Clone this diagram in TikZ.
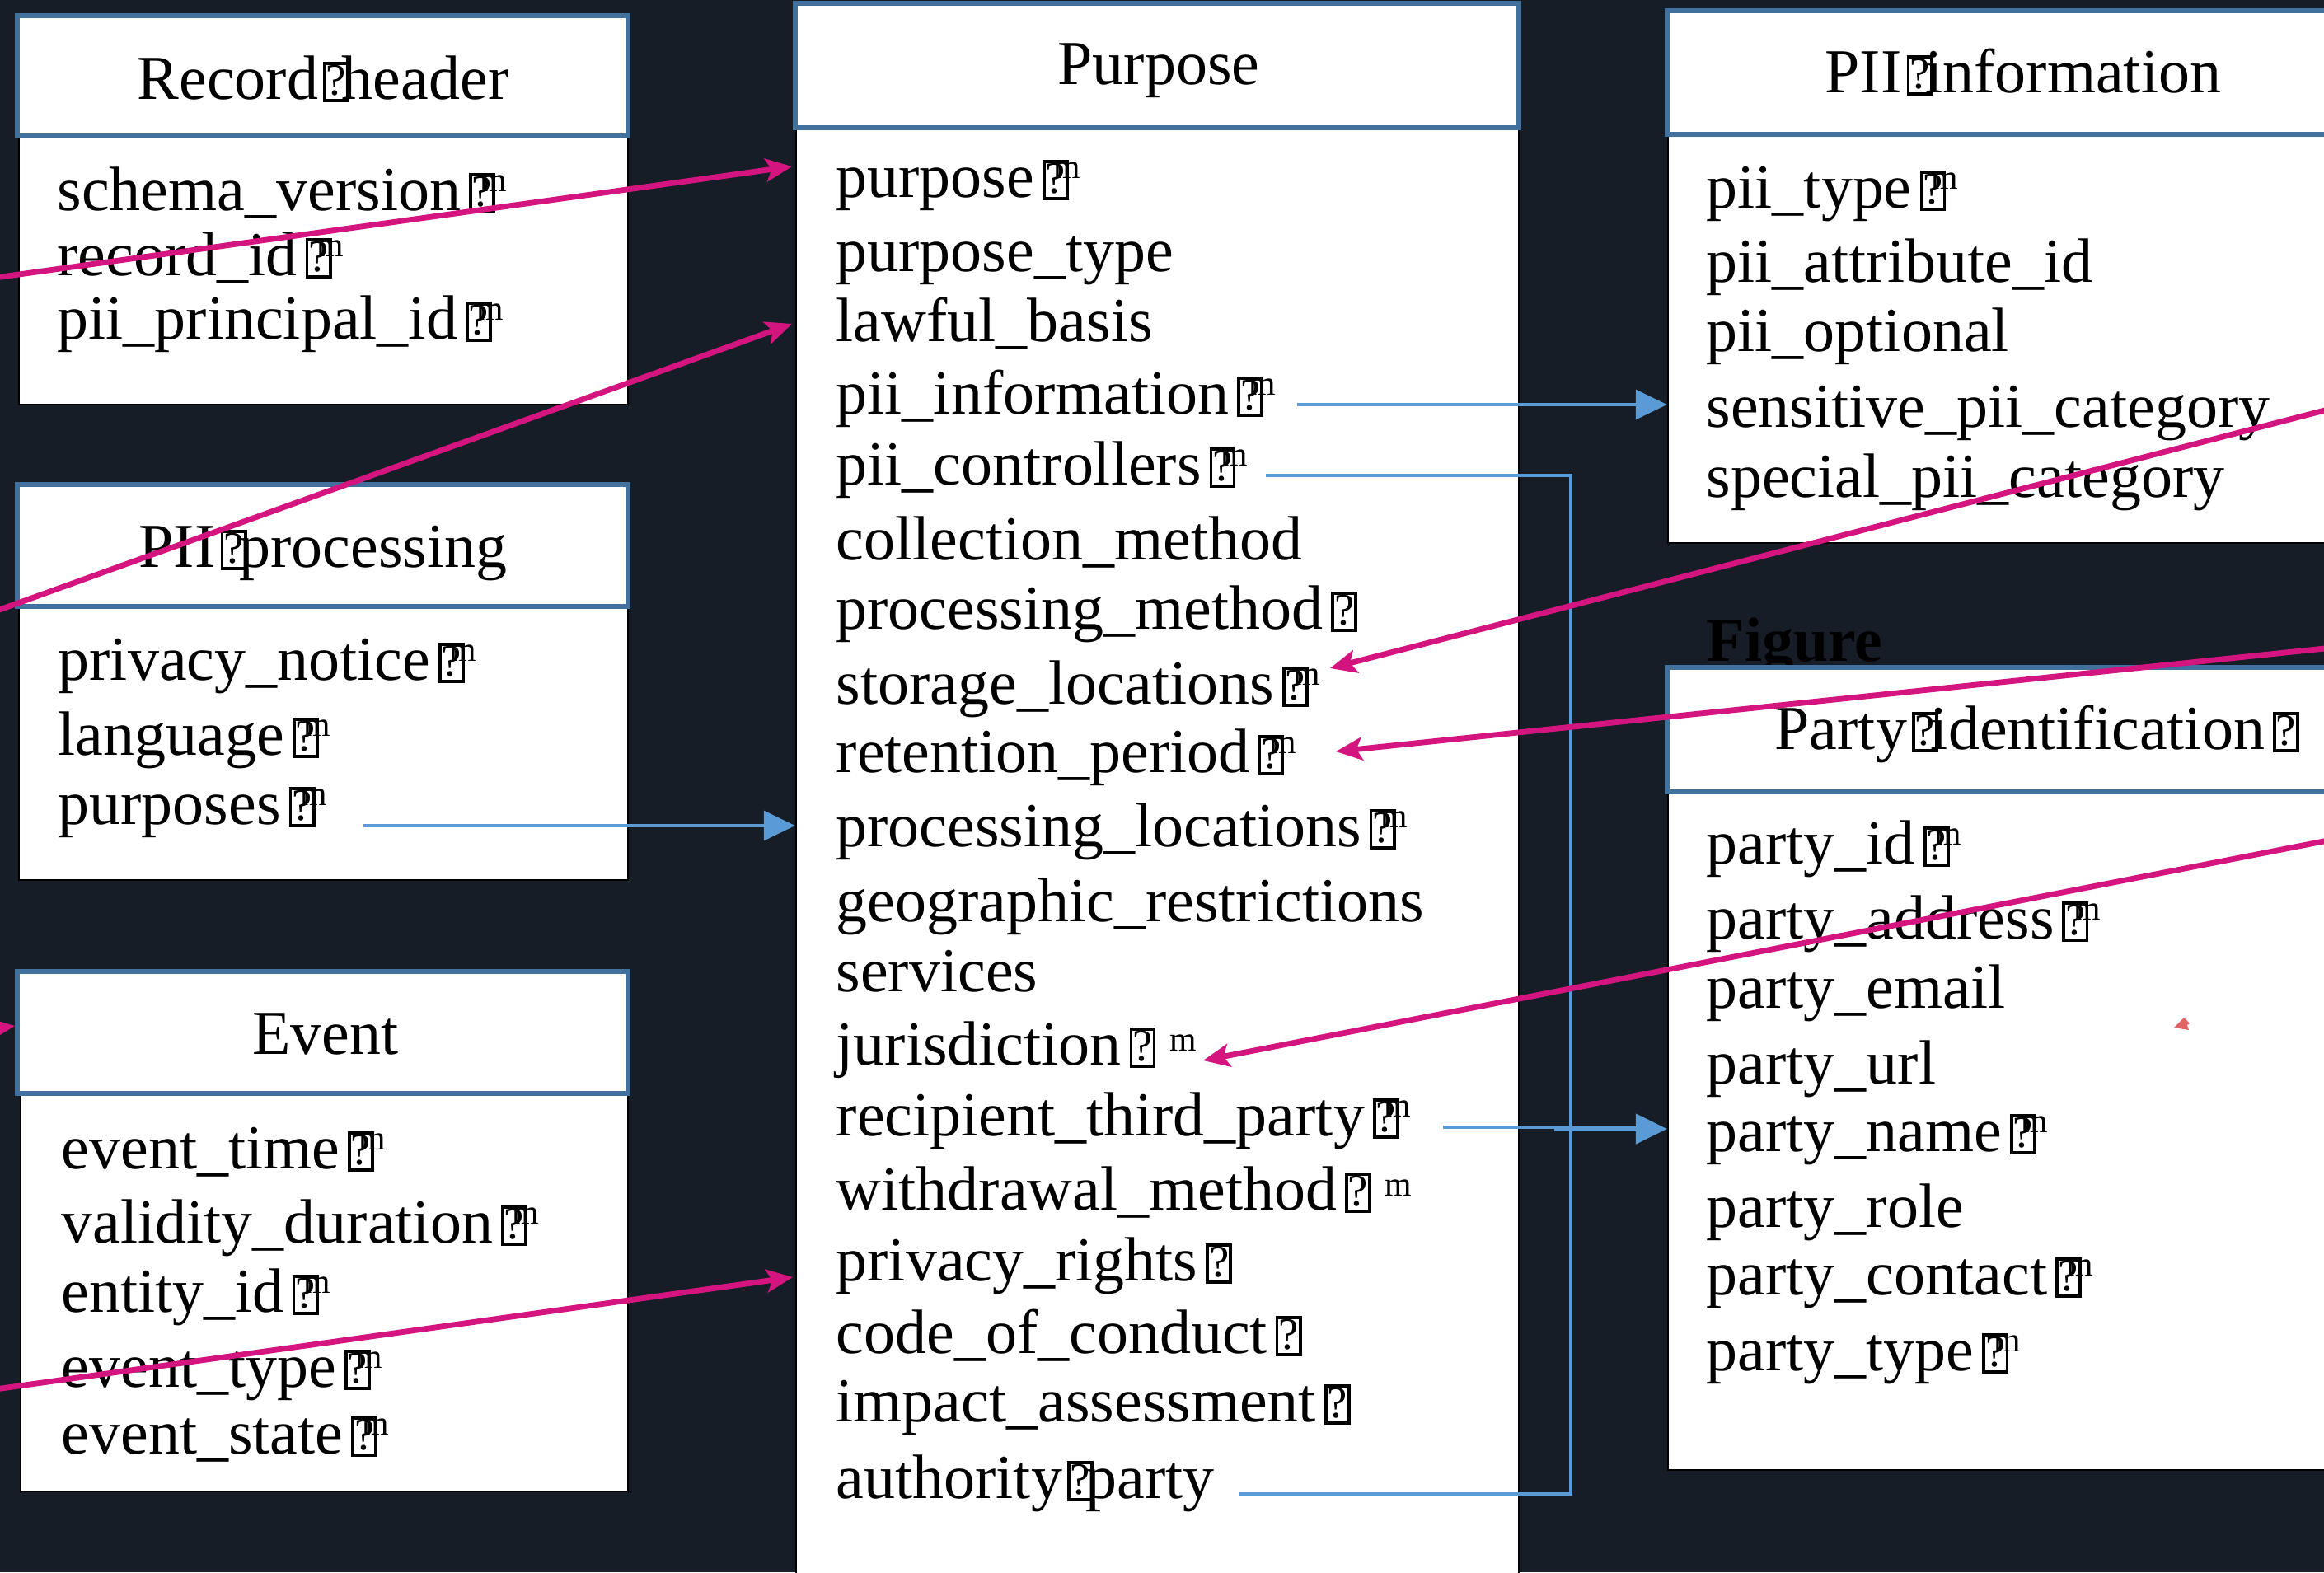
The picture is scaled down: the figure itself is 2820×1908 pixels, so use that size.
\documentclass[tikz,border=0pt]{standalone}
\usepackage{fontspec}
\setmainfont{Liberation Serif}
\usepackage{graphicx}
\usetikzlibrary{arrows.meta,fit}

\definecolor{bgnavy}{HTML}{171D27}
\definecolor{hdrblue}{HTML}{41719C}
\definecolor{linkblue}{HTML}{5B9BD5}
\definecolor{linkmag}{HTML}{D4157F}
\definecolor{tipred}{HTML}{E06464}

\newcommand\fs{\fontsize{21.6pt}{26pt}\selectfont}
% placeholder box printed for a glyph the font lacks
\newcommand\gbox{{\setlength\fboxsep{0pt}\setlength\fboxrule{0.05em}%
  \fbox{\makebox[0.32em]{\rule{0pt}{0.52em}\raisebox{0.06em}{\scalebox{0.72}{?}}}}}}
\newcommand\gm{\kern0.13em\gbox\kern-0.24em\raisebox{0.3em}{\scalebox{0.55}{m}}}
\newcommand\gsm{\kern0.13em\gbox\kern0.22em\raisebox{0.22em}{\scalebox{0.55}{m}}}
\newcommand\gq{\kern0.13em\gbox}
\newcommand\gsp{\kern0.08em\gbox\kern-0.12em}

\tikzset{
  hdr/.style={draw=hdrblue, line width=1.55pt, fill=white, inner sep=0pt},
  bodybox/.style={draw=black, line width=0.7pt, fill=white, inner sep=0pt},
  ttl/.style={anchor=base, inner sep=0pt, font=\fs},
  ttlw/.style={anchor=base west, inner sep=0pt, font=\fs},
  fld/.style={anchor=base west, inner sep=0pt, font=\fs},
  bl/.style={draw=linkblue, line width=0.9pt},
  blarr/.style={bl, -{Triangle[length=0.38cm,width=0.36cm]}},
  mag/.style={draw=linkmag, line width=1.95pt,
    -{Stealth[length=0.32cm,width=0.28cm,inset=0.07cm]}},
}

\begin{document}
\begin{tikzpicture}[x=0.01cm,y=-0.01cm]
\useasboundingbox (0,0) rectangle (2820,1908);
\begin{scope}
\clip (0,0) rectangle (2820,1908);
\fill[bgnavy] (0,0) rectangle (2820,1908);

% caption text partly hidden behind the Party identification box
\node[fld, font=\fs\bfseries, text=black] (figT) at (2070,802) {Figure};

% ---------- Record header ----------
\node[bodybox, fit={(23,167) (762,491)}] (rhB) {};
\node[hdr, fit={(21,19) (762,165)}] (rhH) {};
\node[ttl] (rhT) at (392,120) {Record\gsp header};
\node[fld] (rh1) at (69,255) {schema\_version\gm};
\node[fld] (rh2) at (69,334) {record\_id\gm};
\node[fld] (rh3) at (69,411) {pii\_principal\_id\gm};

% ---------- PII processing ----------
\node[bodybox, fit={(23,738) (762,1068)}] (ppB) {};
\node[hdr, fit={(21,588) (762,736)}] (ppH) {};
\node[ttl] (ppT) at (392,688) {PII\gsp processing};
\node[fld] (pp1) at (70,825) {privacy\_notice\gm};
\node[fld] (pp2) at (70,916) {language\gm};
\node[fld] (pp3) at (70,1000) {purposes\gm};

% ---------- Event ----------
\node[bodybox, fit={(25,1329) (762,1810)}] (evB) {};
\node[hdr, fit={(21,1179) (762,1327)}] (evH) {};
\node[ttl] (evT) at (395,1279) {Event};
\node[fld] (ev1) at (74,1418) {event\_time\gm};
\node[fld] (ev2) at (74,1508) {validity\_duration\gm};
\node[fld] (ev3) at (74,1592) {entity\_id\gm};
\node[fld] (ev4) at (74,1683) {event\_type\gm};
\node[fld] (ev5) at (74,1764) {event\_state\gm};

% ---------- Purpose ----------
\node[bodybox, fit={(966,157) (1843,1960)}] (puB) {};
\node[hdr, fit={(965,4) (1843,155)}] (puH) {};
\node[ttl] (puT) at (1406,102) {Purpose};
\node[fld] (pu1) at (1014,239) {purpose\gm};
\node[fld] (pu2) at (1014,329) {purpose\_type};
\node[fld] (pu3) at (1014,414) {lawful\_basis};
\node[fld] (pu4) at (1014,502) {pii\_information\gm};
\node[fld] (pu5) at (1014,588) {pii\_controllers\gm};
\node[fld] (pu6) at (1014,679) {collection\_method};
\node[fld] (pu7) at (1014,763) {processing\_method\gq};
\node[fld] (pu8) at (1014,854) {storage\_locations\gm};
\node[fld] (pu9) at (1014,937) {retention\_period\gm};
\node[fld] (pu10) at (1014,1027) {processing\_locations\gm};
\node[fld] (pu11) at (1014,1118) {geographic\_restrictions};
\node[fld] (pu12) at (1014,1203) {services};
\node[fld] (pu13) at (1014,1292) {jurisdiction\gsm};
\node[fld] (pu14) at (1014,1378) {recipient\_third\_party\gm};
\node[fld] (pu15) at (1014,1468) {withdrawal\_method\gsm};
\node[fld] (pu16) at (1014,1554) {privacy\_rights\gq};
\node[fld] (pu17) at (1014,1642) {code\_of\_conduct\gq};
\node[fld] (pu18) at (1014,1725) {impact\_assessment\gq};
\node[fld] (pu19) at (1014,1818) {authority\gsp party};

% ---------- PII information ----------
\node[bodybox, fit={(2024,165) (2900,659)}] (piB) {};
\node[hdr, fit={(2023,13) (2900,163)}] (piH) {};
\node[ttlw] (piT) at (2214,112) {PII\gsp information};
\node[fld] (pi1) at (2070,252) {pii\_type\gm};
\node[fld] (pi2) at (2070,342) {pii\_attribute\_id};
\node[fld] (pi3) at (2070,426) {pii\_optional};
\node[fld] (pi4) at (2070,518) {sensitive\_pii\_category};
\node[fld] (pi5) at (2070,603) {special\_pii\_category};

% ---------- Party identification ----------
\node[bodybox, fit={(2024,963) (2900,1784)}] (paB) {};
\node[hdr, fit={(2023,810) (2900,961)}] (paH) {};
\node[ttlw] (paT) at (2153,909) {Party\gsp identification\gq};
\node[fld] (pa1) at (2070,1048) {party\_id\gm};
\node[fld] (pa2) at (2070,1139) {party\_address\gm};
\node[fld] (pa3) at (2070,1223) {party\_email};
\node[fld] (pa4) at (2070,1315) {party\_url};
\node[fld] (pa5) at (2070,1397) {party\_name\gm};
\node[fld] (pa6) at (2070,1489) {party\_role};
\node[fld] (pa7) at (2070,1571) {party\_contact\gm};
\node[fld] (pa8) at (2070,1663) {party\_type\gm};

% ---------- blue references ----------
\coordinate (c1s) at (1574,491);
\draw[blarr] (c1s) -- (c1s -| piB.west);

\coordinate (pcS) at (1536,577);
\coordinate (busT) at (1906,577);
\coordinate (apS) at (1504,1813);
\coordinate (rtS) at (1751,1368);
\coordinate (rtJ) at (1886,1370);
\draw[bl] (pcS) -- (busT) -- (busT |- apS) -- (apS);
\draw[bl] (rtS) -- (rtS -| busT);
\draw[blarr, line width=1.5pt] (rtJ) -- (rtJ -| paB.west);

\coordinate (psS) at (441,1002);
\draw[blarr] (psS) -- (psS -| puB.west);

% ---------- magenta references ----------
\coordinate (m1s) at (-20,339);   \coordinate (m1e) at (961,202);
\coordinate (m2s) at (-20,747);   \coordinate (m2e) at (961,393);
\coordinate (m3s) at (2840,493);  \coordinate (m3e) at (1614,811);
\coordinate (m4s) at (2840,785);  \coordinate (m4e) at (1621,912);
\coordinate (m5s) at (2840,1017); \coordinate (m5e) at (1460,1287);
\coordinate (m6s) at (-20,1688);  \coordinate (m6e) at (962,1550);
\coordinate (m7s) at (-20,1250);  \coordinate (m7e) at (18,1245);
\draw[mag] (m1s) -- (m1e);
\draw[mag] (m2s) -- (m2e);
\draw[mag] (m3s) -- (m3e);
\draw[mag] (m4s) -- (m4e);
\draw[mag] (m5s) -- (m5e);
\draw[mag] (m6s) -- (m6e);
\draw[mag] (m7s) -- (m7e);

% stray arrow tip
\fill[tipred] (2638,1247) -- (2650,1235) -- (2657,1242) -- (2654,1244) -- (2656,1250) -- cycle;
\end{scope}
\end{tikzpicture}
\end{document}
